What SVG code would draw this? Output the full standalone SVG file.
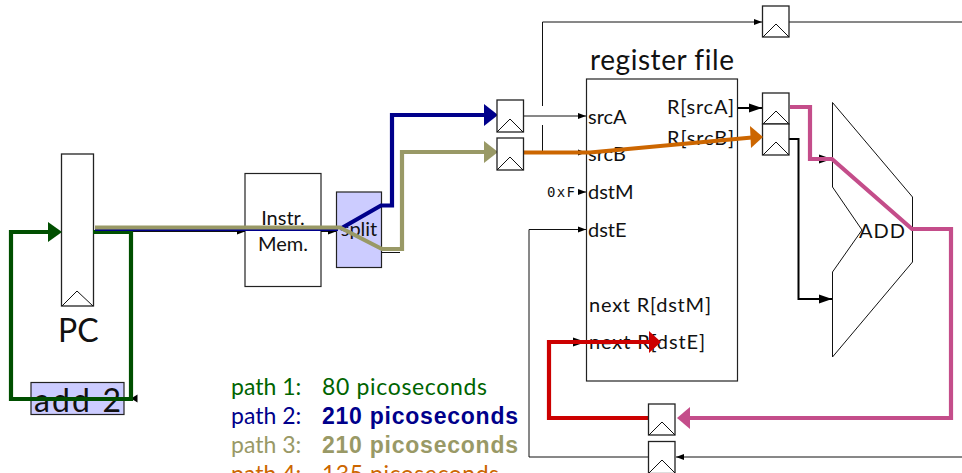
<svg xmlns="http://www.w3.org/2000/svg" width="962" height="473" viewBox="0 0 962 473">
<style>
text{font-family:"Lato","Open Sans","Liberation Sans",sans-serif;fill:#111;font-variant-ligatures:none}
.box{fill:#fff;stroke:#222;stroke-width:1.2}
.fu{fill:#ccccff;stroke:#222;stroke-width:1.2}
.reg{fill:#fff;stroke:#222;stroke-width:1.3}
.clk{fill:none;stroke:#111;stroke-width:1}
.w{fill:none;stroke:#111;stroke-width:1}
.m{fill:none;stroke:#000;stroke-width:2}
.t{fill:none;stroke-width:4.2;stroke-miterlimit:10}
.lab{font-size:20px}
.leg{font-size:23px}
.b{font-weight:700;font-family:"Liberation Sans",sans-serif}
</style>
<defs>
<marker id="a" markerUnits="userSpaceOnUse" markerWidth="9" markerHeight="8" refX="8" refY="4" orient="auto"><path d="M0 1 L8 4 L0 7Z" fill="#000"/></marker>
<marker id="b" markerUnits="userSpaceOnUse" markerWidth="14" markerHeight="10" refX="13" refY="5" orient="auto"><path d="M0 .5 L13 5 L0 9.5Z" fill="#000"/></marker>
</defs>
<g id="pc"><rect class="reg" x="61.500" y="154" width="32" height="152"/><path class="clk" d="M62 306 L77 291 L93 306"/><text x="58" y="342" style="font-size:32px">PC</text></g>
<g id="instr-mem"><rect class="box" x="245" y="173.500" width="76" height="113"/><text class="lab" x="283" y="225" text-anchor="middle">Instr.</text><text class="lab" x="283" y="251" text-anchor="middle">Mem.</text></g>
<g id="split"><rect class="fu" x="336.500" y="192" width="45" height="75.500"/><text class="lab" x="359" y="236" text-anchor="middle">split</text></g>
<g id="add2"><rect class="fu" x="31" y="382.500" width="93" height="32"/><text x="34" y="412" style="font-size:32px" textLength="87">add 2</text></g>
<g id="regfile"><rect class="box" x="586.500" y="79" width="151" height="302"/>
<text x="590" y="70" style="font-size:28px" textLength="144">register file</text>
<text class="lab" x="588" y="124">srcA</text><text class="lab" x="588" y="161">srcB</text><text class="lab" x="588" y="199">dstM</text><text class="lab" x="588" y="237">dstE</text>
<text class="lab" x="667" y="114" textLength="67">R[srcA]</text><text class="lab" x="667" y="145" textLength="67">R[srcB]</text>
<text class="lab" x="589" y="312" textLength="122">next R[dstM]</text><text class="lab" x="589" y="349" textLength="116">next R[dstE]</text>
<text x="547" y="197" style="font-family:'DejaVu Sans Mono',monospace;font-size:14px" textLength="28">0xF</text></g>
<g id="alu"><path d="M832.500 102.500 L912.500 197 V262 L832.500 357 V272 L862 230 L832.500 187Z" fill="#fff" stroke="#111" stroke-width="1"/><text class="lab" x="882" y="238" text-anchor="middle" textLength="46">ADD</text></g>
<g id="connectors">
<path class="w" d="M93 231.500H245" marker-end="url(#a)"/><path class="w" d="M321 231.500H336" marker-end="url(#a)"/>
<path class="w" d="M381 252.500H400"/>
<path class="w" d="M523.500 116H586" marker-end="url(#a)"/><path class="w" d="M523.500 152.500H586" marker-end="url(#a)"/>
<path class="w" d="M542.500 106V22H762" marker-end="url(#a)"/><path class="w" d="M542.500 125V152"/>
<path class="w" d="M789 22H962"/><path class="w" d="M578 192H586" marker-end="url(#a)"/>
<path class="w" d="M586 229.500H529V457H648"/><path class="w" d="M529 229.500H586" marker-end="url(#a)"/><path class="w" d="M962 457H676" marker-end="url(#a)"/>
<path class="m" d="M738 108H762" marker-end="url(#b)"/><path class="m" d="M789 139H798.500V299H832" marker-end="url(#b)"/><path class="m" d="M810 159H832" marker-end="url(#b)"/><path class="m" d="M549 342H586" marker-end="url(#b)"/>
<path d="M131 398.500L137.500 394.500V402.500Z" fill="#000"/>
<path class="t" stroke="#004f00" d="M93 232H131V399H11V232H48"/><path d="M48 222 L62 232 L48 242Z" fill="#004f00"/>
<path fill="none" stroke="#00008b" stroke-width="2" d="M95 230H338"/><path class="t" stroke="#00008b" d="M340 229L381 205.500H392V115H486"/><path d="M484 104 L498 115 L484 126Z" fill="#00008b"/>
<path class="t" stroke="#999966" d="M95 227.500H340L382 249H402V152H486"/><path d="M484 141 L498 152 L484 163Z" fill="#999966"/>
<path class="t" stroke="#cc6600" d="M524 152.500H590L752 137.500"/>
<path class="t" stroke="#c44d8a" d="M790 107H810V159H832L912 229H951V418H688"/><path d="M690 407 L677 418 L690 429Z" fill="#c44d8a"/>
<path class="t" stroke="#cc0000" d="M649 418H549V342H650"/><path d="M649 331 L661 342 L649 353Z" fill="#cc0000"/>
</g>
<g id="reg-top"><rect class="reg" x="762.500" y="6" width="26.500" height="31"/><path class="clk" d="M763 37 L776 24 L789 37"/></g>
<g id="reg-a"><rect class="reg" x="497" y="100" width="26.500" height="32"/><path class="clk" d="M497 132 L510 119 L523 132"/></g>
<g id="reg-b"><rect class="reg" x="497" y="138" width="26.500" height="32"/><path class="clk" d="M497 170 L510 157 L523 170"/></g>
<g id="reg-ra"><rect class="reg" x="762.500" y="93" width="26.500" height="31"/><path class="clk" d="M763 124 L776 111 L789 124"/></g>
<g id="reg-rb"><rect class="reg" x="762.500" y="124" width="26.500" height="31"/><path class="clk" d="M763 155 L776 142 L789 155"/></g>
<g id="reg-e"><rect class="reg" x="648.500" y="404" width="26.500" height="31"/><path class="clk" d="M649 435 L662 422 L675 435"/></g>
<g id="reg-m"><rect class="reg" x="648.500" y="441.500" width="26.500" height="32"/><path class="clk" d="M649 473 L662 460 L675 473"/></g>
<path d="M763 137 L750 126 L751 148Z" fill="#cc6600"/>
<g id="legend">
<text class="leg" x="231" y="395" style="fill:#006400">path 1:</text><text class="leg" x="322" y="395" style="fill:#006400" textLength="165">80 picoseconds</text>
<text class="leg" x="231" y="424" style="fill:#00008b">path 2:</text><text class="leg b" x="322" y="424" style="fill:#00008b" textLength="196">210 picoseconds</text>
<text class="leg" x="231" y="453" style="fill:#999966">path 3:</text><text class="leg b" x="322" y="453" style="fill:#999966" textLength="196">210 picoseconds</text>
<text class="leg" x="231" y="482" style="fill:#cc6600">path 4:</text><text class="leg" x="322" y="482" style="fill:#cc6600" textLength="177">135 picoseconds</text>
</g>
</svg>
